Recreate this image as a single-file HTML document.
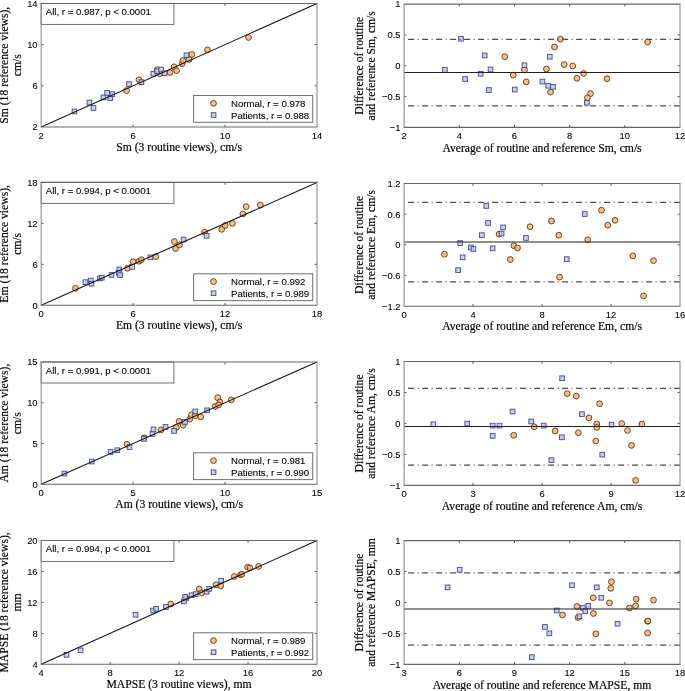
<!DOCTYPE html>
<html><head><meta charset="utf-8"><title>chart</title>
<style>html,body{margin:0;padding:0;background:#fff;width:685px;height:691px;overflow:hidden}svg{display:block;will-change:transform;-webkit-font-smoothing:antialiased}</style>
</head><body>
<svg width="685" height="691" viewBox="0 0 685 691">
<style>
.ax{stroke:#555;stroke-width:1;fill:none}
.axh{stroke:#666;stroke-width:1.1;fill:none}
.axv{stroke:#8c8c8c;stroke-width:1.1;fill:none}
.lg{stroke:#707070;stroke-width:1;fill:#fff}
.tk{font-family:"Liberation Sans",sans-serif;font-size:9.4px;fill:#000;stroke:#000;stroke-width:0.1px}
.lt{font-family:"Liberation Sans",sans-serif;font-size:9.6px;fill:#000;stroke:#000;stroke-width:0.1px}
.lb{font-family:"Liberation Serif",serif;font-size:11.65px;fill:#000;stroke:#000;stroke-width:0.18px}
.oc{fill:#F7B46C;fill-opacity:0.85;stroke:#5a3a1c;stroke-width:0.9}
.bs{fill:#BCC6F2;fill-opacity:0.85;stroke:#474c7c;stroke-width:0.9}
.diag{stroke:#151515;stroke-width:1.05}
.mean{stroke:#202020;stroke-width:1.05}
.dd{stroke:#4a4a4a;stroke-width:1.3;stroke-dasharray:6 3.5 1 3.5;stroke-dashoffset:10}
</style>
<rect width="685" height="691" fill="#fff"/>
<text x="41.20" y="138.90" class="tk" text-anchor="middle">2</text>
<line x1="133.13" y1="127.00" x2="133.13" y2="124.60" class="ax"/>
<line x1="133.13" y1="3.45" x2="133.13" y2="5.85" class="ax"/>
<text x="133.13" y="138.90" class="tk" text-anchor="middle">6</text>
<line x1="225.07" y1="127.00" x2="225.07" y2="124.60" class="ax"/>
<line x1="225.07" y1="3.45" x2="225.07" y2="5.85" class="ax"/>
<text x="225.07" y="138.90" class="tk" text-anchor="middle">10</text>
<text x="317.00" y="138.90" class="tk" text-anchor="middle">14</text>
<text x="37.60" y="130.35" class="tk" text-anchor="end">2</text>
<line x1="41.20" y1="85.82" x2="43.60" y2="85.82" class="ax"/>
<line x1="317.00" y1="85.82" x2="314.60" y2="85.82" class="ax"/>
<text x="37.60" y="89.17" class="tk" text-anchor="end">6</text>
<line x1="41.20" y1="44.63" x2="43.60" y2="44.63" class="ax"/>
<line x1="317.00" y1="44.63" x2="314.60" y2="44.63" class="ax"/>
<text x="37.60" y="47.98" class="tk" text-anchor="end">10</text>
<text x="37.60" y="6.80" class="tk" text-anchor="end">14</text>
<text x="179.10" y="151.10" class="lb" text-anchor="middle">Sm (3 routine views), cm/s</text>
<text transform="translate(8.00,65.22) rotate(-90)" class="lb" text-anchor="middle">Sm (18 reference views),</text>
<text transform="translate(20.90,65.22) rotate(-90)" class="lb" text-anchor="middle">cm/s</text>
<circle cx="126.6" cy="90.6" r="2.9" class="oc"/>
<circle cx="157.3" cy="69.6" r="2.9" class="oc"/>
<circle cx="139.0" cy="79.8" r="2.9" class="oc"/>
<circle cx="159.6" cy="73.7" r="2.9" class="oc"/>
<circle cx="170.0" cy="72.5" r="2.9" class="oc"/>
<circle cx="174.1" cy="66.8" r="2.9" class="oc"/>
<circle cx="176.5" cy="70.6" r="2.9" class="oc"/>
<circle cx="182.1" cy="63.7" r="2.9" class="oc"/>
<circle cx="182.9" cy="60.6" r="2.9" class="oc"/>
<circle cx="189.2" cy="59.4" r="2.9" class="oc"/>
<circle cx="191.8" cy="54.5" r="2.9" class="oc"/>
<circle cx="207.5" cy="49.9" r="2.9" class="oc"/>
<circle cx="248.5" cy="37.5" r="2.9" class="oc"/>
<rect x="72.1" y="109.1" width="4.7" height="4.7" class="bs"/>
<rect x="87.1" y="100.2" width="4.7" height="4.7" class="bs"/>
<rect x="91.1" y="105.6" width="4.7" height="4.7" class="bs"/>
<rect x="101.1" y="95.1" width="4.7" height="4.7" class="bs"/>
<rect x="104.8" y="90.6" width="4.7" height="4.7" class="bs"/>
<rect x="107.9" y="95.7" width="4.7" height="4.7" class="bs"/>
<rect x="110.0" y="91.8" width="4.7" height="4.7" class="bs"/>
<rect x="126.6" y="81.7" width="4.7" height="4.7" class="bs"/>
<rect x="139.1" y="79.8" width="4.7" height="4.7" class="bs"/>
<rect x="151.0" y="71.4" width="4.7" height="4.7" class="bs"/>
<rect x="154.8" y="68.9" width="4.7" height="4.7" class="bs"/>
<rect x="158.8" y="67.2" width="4.7" height="4.7" class="bs"/>
<rect x="162.3" y="70.9" width="4.7" height="4.7" class="bs"/>
<rect x="184.1" y="52.9" width="4.7" height="4.7" class="bs"/>
<line x1="41.20" y1="127.00" x2="317.00" y2="3.45" class="diag"/>
<rect x="41.20" y="3.45" width="132.70" height="21.00" class="lg"/>
<text x="45.80" y="15.15" class="lt">All, r = 0.987, p &lt; 0.0001</text>
<rect x="193.60" y="95.50" width="119.10" height="26.80" class="lg"/>
<circle cx="213.5" cy="103.3" r="2.9" class="oc"/>
<rect x="211.2" y="112.7" width="4.7" height="4.7" class="bs"/>
<text x="231.0" y="106.80" class="lt">Normal, r = 0.978</text>
<text x="231.0" y="118.50" class="lt">Patients, r = 0.988</text>
<path d="M40.70 3.45H317.50M40.70 127.00H317.50" class="axh"/>
<path d="M41.20 3.45V127.00M317.00 3.45V127.00" class="axv"/>
<text x="404.10" y="139.30" class="tk" text-anchor="middle">2</text>
<line x1="459.28" y1="127.40" x2="459.28" y2="125.00" class="ax"/>
<line x1="459.28" y1="4.10" x2="459.28" y2="6.50" class="ax"/>
<text x="459.28" y="139.30" class="tk" text-anchor="middle">4</text>
<line x1="514.46" y1="127.40" x2="514.46" y2="125.00" class="ax"/>
<line x1="514.46" y1="4.10" x2="514.46" y2="6.50" class="ax"/>
<text x="514.46" y="139.30" class="tk" text-anchor="middle">6</text>
<line x1="569.64" y1="127.40" x2="569.64" y2="125.00" class="ax"/>
<line x1="569.64" y1="4.10" x2="569.64" y2="6.50" class="ax"/>
<text x="569.64" y="139.30" class="tk" text-anchor="middle">8</text>
<line x1="624.82" y1="127.40" x2="624.82" y2="125.00" class="ax"/>
<line x1="624.82" y1="4.10" x2="624.82" y2="6.50" class="ax"/>
<text x="624.82" y="139.30" class="tk" text-anchor="middle">10</text>
<text x="680.00" y="139.30" class="tk" text-anchor="middle">12</text>
<text x="400.50" y="130.75" class="tk" text-anchor="end">−1</text>
<line x1="404.10" y1="96.58" x2="406.50" y2="96.58" class="ax"/>
<line x1="680.00" y1="96.58" x2="677.60" y2="96.58" class="ax"/>
<text x="400.50" y="99.92" class="tk" text-anchor="end">−0.5</text>
<line x1="404.10" y1="65.75" x2="406.50" y2="65.75" class="ax"/>
<line x1="680.00" y1="65.75" x2="677.60" y2="65.75" class="ax"/>
<text x="400.50" y="69.10" class="tk" text-anchor="end">0</text>
<line x1="404.10" y1="34.92" x2="406.50" y2="34.92" class="ax"/>
<line x1="680.00" y1="34.92" x2="677.60" y2="34.92" class="ax"/>
<text x="400.50" y="38.27" class="tk" text-anchor="end">0.5</text>
<text x="400.50" y="7.45" class="tk" text-anchor="end">1</text>
<text x="542.05" y="151.50" class="lb" text-anchor="middle">Average of routine and reference Sm, cm/s</text>
<text transform="translate(362.50,65.75) rotate(-90)" class="lb" text-anchor="middle">Difference of routine</text>
<text transform="translate(375.40,65.75) rotate(-90)" class="lb" text-anchor="middle">and reference Sm, cm/s</text>
<circle cx="504.8" cy="56.7" r="2.9" class="oc"/>
<circle cx="513.3" cy="75.1" r="2.9" class="oc"/>
<circle cx="524.5" cy="69.9" r="2.9" class="oc"/>
<circle cx="526.2" cy="81.9" r="2.9" class="oc"/>
<circle cx="546.4" cy="69.0" r="2.9" class="oc"/>
<circle cx="550.5" cy="92.1" r="2.9" class="oc"/>
<circle cx="554.5" cy="47.0" r="2.9" class="oc"/>
<circle cx="560.4" cy="39.2" r="2.9" class="oc"/>
<circle cx="564.2" cy="64.6" r="2.9" class="oc"/>
<circle cx="572.7" cy="66.0" r="2.9" class="oc"/>
<circle cx="576.9" cy="78.3" r="2.9" class="oc"/>
<circle cx="583.7" cy="73.5" r="2.9" class="oc"/>
<circle cx="590.5" cy="93.6" r="2.9" class="oc"/>
<circle cx="587.5" cy="97.8" r="2.9" class="oc"/>
<circle cx="607.0" cy="78.7" r="2.9" class="oc"/>
<circle cx="647.6" cy="42.1" r="2.9" class="oc"/>
<rect x="442.5" y="67.6" width="4.7" height="4.7" class="bs"/>
<rect x="458.6" y="36.4" width="4.7" height="4.7" class="bs"/>
<rect x="462.8" y="76.7" width="4.7" height="4.7" class="bs"/>
<rect x="482.3" y="53.1" width="4.7" height="4.7" class="bs"/>
<rect x="478.3" y="71.4" width="4.7" height="4.7" class="bs"/>
<rect x="488.2" y="67.1" width="4.7" height="4.7" class="bs"/>
<rect x="486.5" y="87.7" width="4.7" height="4.7" class="bs"/>
<rect x="512.4" y="87.2" width="4.7" height="4.7" class="bs"/>
<rect x="522.1" y="62.9" width="4.7" height="4.7" class="bs"/>
<rect x="540.1" y="79.2" width="4.7" height="4.7" class="bs"/>
<rect x="545.8" y="83.4" width="4.7" height="4.7" class="bs"/>
<rect x="550.6" y="84.5" width="4.7" height="4.7" class="bs"/>
<rect x="547.4" y="54.4" width="4.7" height="4.7" class="bs"/>
<rect x="584.5" y="100.4" width="4.7" height="4.7" class="bs"/>
<line x1="404.10" y1="72.40" x2="680.00" y2="72.40" class="mean"/>
<line x1="404.10" y1="39.35" x2="680.00" y2="39.35" class="dd"/>
<line x1="404.10" y1="105.95" x2="680.00" y2="105.95" class="dd"/>
<path d="M403.60 4.10H680.50M403.60 127.40H680.50" class="axh"/>
<path d="M404.10 4.10V127.40M680.00 4.10V127.40" class="axv"/>
<text x="41.20" y="317.20" class="tk" text-anchor="middle">0</text>
<line x1="133.13" y1="305.30" x2="133.13" y2="302.90" class="ax"/>
<line x1="133.13" y1="182.40" x2="133.13" y2="184.80" class="ax"/>
<text x="133.13" y="317.20" class="tk" text-anchor="middle">6</text>
<line x1="225.07" y1="305.30" x2="225.07" y2="302.90" class="ax"/>
<line x1="225.07" y1="182.40" x2="225.07" y2="184.80" class="ax"/>
<text x="225.07" y="317.20" class="tk" text-anchor="middle">12</text>
<text x="317.00" y="317.20" class="tk" text-anchor="middle">18</text>
<text x="37.60" y="308.65" class="tk" text-anchor="end">0</text>
<line x1="41.20" y1="264.33" x2="43.60" y2="264.33" class="ax"/>
<line x1="317.00" y1="264.33" x2="314.60" y2="264.33" class="ax"/>
<text x="37.60" y="267.68" class="tk" text-anchor="end">6</text>
<line x1="41.20" y1="223.37" x2="43.60" y2="223.37" class="ax"/>
<line x1="317.00" y1="223.37" x2="314.60" y2="223.37" class="ax"/>
<text x="37.60" y="226.72" class="tk" text-anchor="end">12</text>
<text x="37.60" y="185.75" class="tk" text-anchor="end">18</text>
<text x="179.10" y="329.40" class="lb" text-anchor="middle">Em (3 routine views), cm/s</text>
<text transform="translate(8.00,243.85) rotate(-90)" class="lb" text-anchor="middle">Em (18 reference views),</text>
<text transform="translate(20.90,243.85) rotate(-90)" class="lb" text-anchor="middle">cm/s</text>
<circle cx="75.4" cy="288.3" r="2.9" class="oc"/>
<circle cx="127.5" cy="268.3" r="2.9" class="oc"/>
<circle cx="133.2" cy="261.7" r="2.9" class="oc"/>
<circle cx="138.9" cy="261.3" r="2.9" class="oc"/>
<circle cx="141.4" cy="259.7" r="2.9" class="oc"/>
<circle cx="155.7" cy="256.6" r="2.9" class="oc"/>
<circle cx="174.4" cy="241.5" r="2.9" class="oc"/>
<circle cx="175.6" cy="248.5" r="2.9" class="oc"/>
<circle cx="179.5" cy="244.8" r="2.9" class="oc"/>
<circle cx="204.6" cy="232.1" r="2.9" class="oc"/>
<circle cx="221.7" cy="229.3" r="2.9" class="oc"/>
<circle cx="225.2" cy="225.5" r="2.9" class="oc"/>
<circle cx="232.4" cy="223.4" r="2.9" class="oc"/>
<circle cx="242.9" cy="213.9" r="2.9" class="oc"/>
<circle cx="246.2" cy="206.7" r="2.9" class="oc"/>
<circle cx="260.4" cy="205.2" r="2.9" class="oc"/>
<rect x="83.1" y="279.8" width="4.7" height="4.7" class="bs"/>
<rect x="88.4" y="278.2" width="4.7" height="4.7" class="bs"/>
<rect x="89.2" y="281.4" width="4.7" height="4.7" class="bs"/>
<rect x="97.4" y="276.1" width="4.7" height="4.7" class="bs"/>
<rect x="99.4" y="275.3" width="4.7" height="4.7" class="bs"/>
<rect x="109.2" y="272.6" width="4.7" height="4.7" class="bs"/>
<rect x="117.0" y="267.1" width="4.7" height="4.7" class="bs"/>
<rect x="116.4" y="270.6" width="4.7" height="4.7" class="bs"/>
<rect x="117.8" y="272.8" width="4.7" height="4.7" class="bs"/>
<rect x="129.7" y="264.5" width="4.7" height="4.7" class="bs"/>
<rect x="148.1" y="255.0" width="4.7" height="4.7" class="bs"/>
<rect x="181.2" y="237.2" width="4.7" height="4.7" class="bs"/>
<rect x="204.2" y="233.5" width="4.7" height="4.7" class="bs"/>
<line x1="41.20" y1="305.30" x2="317.00" y2="182.40" class="diag"/>
<rect x="41.20" y="182.40" width="132.70" height="21.00" class="lg"/>
<text x="45.80" y="194.10" class="lt">All, r = 0.994, p &lt; 0.0001</text>
<rect x="193.60" y="273.80" width="119.10" height="26.80" class="lg"/>
<circle cx="213.5" cy="281.6" r="2.9" class="oc"/>
<rect x="211.2" y="290.9" width="4.7" height="4.7" class="bs"/>
<text x="231.0" y="285.10" class="lt">Normal, r = 0.992</text>
<text x="231.0" y="296.80" class="lt">Patients, r = 0.989</text>
<path d="M40.70 182.40H317.50M40.70 305.30H317.50" class="axh"/>
<path d="M41.20 182.40V305.30M317.00 182.40V305.30" class="axv"/>
<text x="404.10" y="318.20" class="tk" text-anchor="middle">0</text>
<line x1="473.08" y1="306.30" x2="473.08" y2="303.90" class="ax"/>
<line x1="473.08" y1="183.50" x2="473.08" y2="185.90" class="ax"/>
<text x="473.08" y="318.20" class="tk" text-anchor="middle">4</text>
<line x1="542.05" y1="306.30" x2="542.05" y2="303.90" class="ax"/>
<line x1="542.05" y1="183.50" x2="542.05" y2="185.90" class="ax"/>
<text x="542.05" y="318.20" class="tk" text-anchor="middle">8</text>
<line x1="611.02" y1="306.30" x2="611.02" y2="303.90" class="ax"/>
<line x1="611.02" y1="183.50" x2="611.02" y2="185.90" class="ax"/>
<text x="611.02" y="318.20" class="tk" text-anchor="middle">12</text>
<text x="680.00" y="318.20" class="tk" text-anchor="middle">16</text>
<text x="400.50" y="309.65" class="tk" text-anchor="end">−1.2</text>
<line x1="404.10" y1="275.60" x2="406.50" y2="275.60" class="ax"/>
<line x1="680.00" y1="275.60" x2="677.60" y2="275.60" class="ax"/>
<text x="400.50" y="278.95" class="tk" text-anchor="end">−0.6</text>
<line x1="404.10" y1="244.90" x2="406.50" y2="244.90" class="ax"/>
<line x1="680.00" y1="244.90" x2="677.60" y2="244.90" class="ax"/>
<text x="400.50" y="248.25" class="tk" text-anchor="end">0</text>
<line x1="404.10" y1="214.20" x2="406.50" y2="214.20" class="ax"/>
<line x1="680.00" y1="214.20" x2="677.60" y2="214.20" class="ax"/>
<text x="400.50" y="217.55" class="tk" text-anchor="end">0.6</text>
<text x="400.50" y="186.85" class="tk" text-anchor="end">1.2</text>
<text x="542.05" y="330.40" class="lb" text-anchor="middle">Average of routine and reference Em, cm/s</text>
<text transform="translate(362.50,244.90) rotate(-90)" class="lb" text-anchor="middle">Difference of routine</text>
<text transform="translate(375.40,244.90) rotate(-90)" class="lb" text-anchor="middle">and reference Em, cm/s</text>
<circle cx="444.5" cy="254.2" r="2.9" class="oc"/>
<circle cx="499.1" cy="234.1" r="2.9" class="oc"/>
<circle cx="510.3" cy="259.5" r="2.9" class="oc"/>
<circle cx="513.9" cy="245.7" r="2.9" class="oc"/>
<circle cx="517.5" cy="247.9" r="2.9" class="oc"/>
<circle cx="530.0" cy="226.7" r="2.9" class="oc"/>
<circle cx="551.5" cy="221.0" r="2.9" class="oc"/>
<circle cx="558.9" cy="235.2" r="2.9" class="oc"/>
<circle cx="559.6" cy="277.1" r="2.9" class="oc"/>
<circle cx="587.7" cy="239.8" r="2.9" class="oc"/>
<circle cx="601.5" cy="210.2" r="2.9" class="oc"/>
<circle cx="607.8" cy="225.2" r="2.9" class="oc"/>
<circle cx="615.0" cy="220.3" r="2.9" class="oc"/>
<circle cx="632.8" cy="255.9" r="2.9" class="oc"/>
<circle cx="643.6" cy="295.9" r="2.9" class="oc"/>
<circle cx="653.5" cy="260.6" r="2.9" class="oc"/>
<rect x="455.8" y="267.8" width="4.7" height="4.7" class="bs"/>
<rect x="457.8" y="240.7" width="4.7" height="4.7" class="bs"/>
<rect x="460.3" y="255.0" width="4.7" height="4.7" class="bs"/>
<rect x="468.5" y="245.1" width="4.7" height="4.7" class="bs"/>
<rect x="471.1" y="246.6" width="4.7" height="4.7" class="bs"/>
<rect x="479.5" y="232.8" width="4.7" height="4.7" class="bs"/>
<rect x="484.0" y="203.6" width="4.7" height="4.7" class="bs"/>
<rect x="485.8" y="220.6" width="4.7" height="4.7" class="bs"/>
<rect x="490.3" y="246.0" width="4.7" height="4.7" class="bs"/>
<rect x="499.2" y="231.2" width="4.7" height="4.7" class="bs"/>
<rect x="500.8" y="225.0" width="4.7" height="4.7" class="bs"/>
<rect x="523.6" y="235.6" width="4.7" height="4.7" class="bs"/>
<rect x="564.4" y="256.8" width="4.7" height="4.7" class="bs"/>
<rect x="582.4" y="211.7" width="4.7" height="4.7" class="bs"/>
<line x1="404.10" y1="241.90" x2="680.00" y2="241.90" class="mean"/>
<line x1="404.10" y1="202.45" x2="680.00" y2="202.45" class="dd"/>
<line x1="404.10" y1="281.90" x2="680.00" y2="281.90" class="dd"/>
<path d="M403.60 183.50H680.50M403.60 306.30H680.50" class="axh"/>
<path d="M404.10 183.50V306.30M680.00 183.50V306.30" class="axv"/>
<text x="41.20" y="496.20" class="tk" text-anchor="middle">0</text>
<line x1="133.13" y1="484.30" x2="133.13" y2="481.90" class="ax"/>
<line x1="133.13" y1="362.00" x2="133.13" y2="364.40" class="ax"/>
<text x="133.13" y="496.20" class="tk" text-anchor="middle">5</text>
<line x1="225.07" y1="484.30" x2="225.07" y2="481.90" class="ax"/>
<line x1="225.07" y1="362.00" x2="225.07" y2="364.40" class="ax"/>
<text x="225.07" y="496.20" class="tk" text-anchor="middle">10</text>
<text x="317.00" y="496.20" class="tk" text-anchor="middle">15</text>
<text x="37.60" y="487.65" class="tk" text-anchor="end">0</text>
<line x1="41.20" y1="443.53" x2="43.60" y2="443.53" class="ax"/>
<line x1="317.00" y1="443.53" x2="314.60" y2="443.53" class="ax"/>
<text x="37.60" y="446.88" class="tk" text-anchor="end">5</text>
<line x1="41.20" y1="402.77" x2="43.60" y2="402.77" class="ax"/>
<line x1="317.00" y1="402.77" x2="314.60" y2="402.77" class="ax"/>
<text x="37.60" y="406.12" class="tk" text-anchor="end">10</text>
<text x="37.60" y="365.35" class="tk" text-anchor="end">15</text>
<text x="179.10" y="508.40" class="lb" text-anchor="middle">Am (3 routine views), cm/s</text>
<text transform="translate(8.00,423.15) rotate(-90)" class="lb" text-anchor="middle">Am (18 reference views),</text>
<text transform="translate(20.90,423.15) rotate(-90)" class="lb" text-anchor="middle">cm/s</text>
<circle cx="126.9" cy="444.2" r="2.9" class="oc"/>
<circle cx="144.2" cy="437.7" r="2.9" class="oc"/>
<circle cx="161.0" cy="429.9" r="2.9" class="oc"/>
<circle cx="176.3" cy="427.4" r="2.9" class="oc"/>
<circle cx="179.1" cy="421.3" r="2.9" class="oc"/>
<circle cx="183.1" cy="425.3" r="2.9" class="oc"/>
<circle cx="189.7" cy="419.1" r="2.9" class="oc"/>
<circle cx="191.5" cy="414.7" r="2.9" class="oc"/>
<circle cx="195.2" cy="415.8" r="2.9" class="oc"/>
<circle cx="200.7" cy="416.9" r="2.9" class="oc"/>
<circle cx="215.3" cy="406.4" r="2.9" class="oc"/>
<circle cx="217.7" cy="397.7" r="2.9" class="oc"/>
<circle cx="219.9" cy="402.0" r="2.9" class="oc"/>
<circle cx="218.6" cy="404.9" r="2.9" class="oc"/>
<circle cx="231.3" cy="399.9" r="2.9" class="oc"/>
<rect x="62.1" y="471.2" width="4.7" height="4.7" class="bs"/>
<rect x="89.4" y="459.2" width="4.7" height="4.7" class="bs"/>
<rect x="108.2" y="449.6" width="4.7" height="4.7" class="bs"/>
<rect x="115.0" y="447.9" width="4.7" height="4.7" class="bs"/>
<rect x="127.2" y="444.8" width="4.7" height="4.7" class="bs"/>
<rect x="141.5" y="436.5" width="4.7" height="4.7" class="bs"/>
<rect x="150.1" y="431.6" width="4.7" height="4.7" class="bs"/>
<rect x="151.2" y="427.1" width="4.7" height="4.7" class="bs"/>
<rect x="163.2" y="424.6" width="4.7" height="4.7" class="bs"/>
<rect x="171.7" y="428.6" width="4.7" height="4.7" class="bs"/>
<rect x="182.6" y="419.6" width="4.7" height="4.7" class="bs"/>
<rect x="192.8" y="409.1" width="4.7" height="4.7" class="bs"/>
<rect x="204.8" y="408.0" width="4.7" height="4.7" class="bs"/>
<line x1="41.20" y1="484.30" x2="317.00" y2="362.00" class="diag"/>
<rect x="41.20" y="362.00" width="132.70" height="21.00" class="lg"/>
<text x="45.80" y="373.70" class="lt">All, r = 0.991, p &lt; 0.0001</text>
<rect x="193.60" y="452.80" width="119.10" height="26.80" class="lg"/>
<circle cx="213.5" cy="460.6" r="2.9" class="oc"/>
<rect x="211.2" y="469.9" width="4.7" height="4.7" class="bs"/>
<text x="231.0" y="464.10" class="lt">Normal, r = 0.981</text>
<text x="231.0" y="475.80" class="lt">Patients, r = 0.990</text>
<path d="M40.70 362.00H317.50M40.70 484.30H317.50" class="axh"/>
<path d="M41.20 362.00V484.30M317.00 362.00V484.30" class="axv"/>
<text x="404.10" y="497.30" class="tk" text-anchor="middle">0</text>
<line x1="473.08" y1="485.40" x2="473.08" y2="483.00" class="ax"/>
<line x1="473.08" y1="361.50" x2="473.08" y2="363.90" class="ax"/>
<text x="473.08" y="497.30" class="tk" text-anchor="middle">3</text>
<line x1="542.05" y1="485.40" x2="542.05" y2="483.00" class="ax"/>
<line x1="542.05" y1="361.50" x2="542.05" y2="363.90" class="ax"/>
<text x="542.05" y="497.30" class="tk" text-anchor="middle">6</text>
<line x1="611.02" y1="485.40" x2="611.02" y2="483.00" class="ax"/>
<line x1="611.02" y1="361.50" x2="611.02" y2="363.90" class="ax"/>
<text x="611.02" y="497.30" class="tk" text-anchor="middle">9</text>
<text x="680.00" y="497.30" class="tk" text-anchor="middle">12</text>
<text x="400.50" y="488.75" class="tk" text-anchor="end">−1</text>
<line x1="404.10" y1="454.42" x2="406.50" y2="454.42" class="ax"/>
<line x1="680.00" y1="454.42" x2="677.60" y2="454.42" class="ax"/>
<text x="400.50" y="457.77" class="tk" text-anchor="end">−0.5</text>
<line x1="404.10" y1="423.45" x2="406.50" y2="423.45" class="ax"/>
<line x1="680.00" y1="423.45" x2="677.60" y2="423.45" class="ax"/>
<text x="400.50" y="426.80" class="tk" text-anchor="end">0</text>
<line x1="404.10" y1="392.48" x2="406.50" y2="392.48" class="ax"/>
<line x1="680.00" y1="392.48" x2="677.60" y2="392.48" class="ax"/>
<text x="400.50" y="395.83" class="tk" text-anchor="end">0.5</text>
<text x="400.50" y="364.85" class="tk" text-anchor="end">1</text>
<text x="542.05" y="509.50" class="lb" text-anchor="middle">Average of routine and reference Am, cm/s</text>
<text transform="translate(362.50,423.45) rotate(-90)" class="lb" text-anchor="middle">Difference of routine</text>
<text transform="translate(375.40,423.45) rotate(-90)" class="lb" text-anchor="middle">and reference Am, cm/s</text>
<circle cx="513.7" cy="435.3" r="2.9" class="oc"/>
<circle cx="534.2" cy="426.8" r="2.9" class="oc"/>
<circle cx="555.1" cy="431.0" r="2.9" class="oc"/>
<circle cx="567.2" cy="393.6" r="2.9" class="oc"/>
<circle cx="576.3" cy="396.1" r="2.9" class="oc"/>
<circle cx="578.4" cy="432.7" r="2.9" class="oc"/>
<circle cx="589.0" cy="417.9" r="2.9" class="oc"/>
<circle cx="595.8" cy="441.0" r="2.9" class="oc"/>
<circle cx="596.8" cy="424.0" r="2.9" class="oc"/>
<circle cx="596.8" cy="427.4" r="2.9" class="oc"/>
<circle cx="599.6" cy="403.7" r="2.9" class="oc"/>
<circle cx="621.8" cy="423.6" r="2.9" class="oc"/>
<circle cx="627.5" cy="430.4" r="2.9" class="oc"/>
<circle cx="631.5" cy="445.4" r="2.9" class="oc"/>
<circle cx="635.6" cy="480.4" r="2.9" class="oc"/>
<circle cx="641.9" cy="424.0" r="2.9" class="oc"/>
<rect x="431.0" y="421.9" width="4.7" height="4.7" class="bs"/>
<rect x="464.9" y="421.2" width="4.7" height="4.7" class="bs"/>
<rect x="490.3" y="423.3" width="4.7" height="4.7" class="bs"/>
<rect x="497.1" y="423.3" width="4.7" height="4.7" class="bs"/>
<rect x="490.3" y="433.5" width="4.7" height="4.7" class="bs"/>
<rect x="510.2" y="409.2" width="4.7" height="4.7" class="bs"/>
<rect x="528.9" y="419.1" width="4.7" height="4.7" class="bs"/>
<rect x="541.4" y="423.3" width="4.7" height="4.7" class="bs"/>
<rect x="559.5" y="435.0" width="4.7" height="4.7" class="bs"/>
<rect x="559.8" y="375.9" width="4.7" height="4.7" class="bs"/>
<rect x="549.1" y="457.8" width="4.7" height="4.7" class="bs"/>
<rect x="579.6" y="411.8" width="4.7" height="4.7" class="bs"/>
<rect x="599.9" y="452.3" width="4.7" height="4.7" class="bs"/>
<rect x="609.2" y="422.3" width="4.7" height="4.7" class="bs"/>
<line x1="404.10" y1="426.50" x2="680.00" y2="426.50" class="mean"/>
<line x1="404.10" y1="388.40" x2="680.00" y2="388.40" class="dd"/>
<line x1="404.10" y1="465.10" x2="680.00" y2="465.10" class="dd"/>
<path d="M403.60 361.50H680.50M403.60 485.40H680.50" class="axh"/>
<path d="M404.10 361.50V485.40M680.00 361.50V485.40" class="axv"/>
<text x="41.20" y="676.20" class="tk" text-anchor="middle">4</text>
<line x1="110.15" y1="664.30" x2="110.15" y2="661.90" class="ax"/>
<line x1="110.15" y1="540.50" x2="110.15" y2="542.90" class="ax"/>
<text x="110.15" y="676.20" class="tk" text-anchor="middle">8</text>
<line x1="179.10" y1="664.30" x2="179.10" y2="661.90" class="ax"/>
<line x1="179.10" y1="540.50" x2="179.10" y2="542.90" class="ax"/>
<text x="179.10" y="676.20" class="tk" text-anchor="middle">12</text>
<line x1="248.05" y1="664.30" x2="248.05" y2="661.90" class="ax"/>
<line x1="248.05" y1="540.50" x2="248.05" y2="542.90" class="ax"/>
<text x="248.05" y="676.20" class="tk" text-anchor="middle">16</text>
<text x="317.00" y="676.20" class="tk" text-anchor="middle">20</text>
<text x="37.60" y="667.65" class="tk" text-anchor="end">4</text>
<line x1="41.20" y1="633.35" x2="43.60" y2="633.35" class="ax"/>
<line x1="317.00" y1="633.35" x2="314.60" y2="633.35" class="ax"/>
<text x="37.60" y="636.70" class="tk" text-anchor="end">8</text>
<line x1="41.20" y1="602.40" x2="43.60" y2="602.40" class="ax"/>
<line x1="317.00" y1="602.40" x2="314.60" y2="602.40" class="ax"/>
<text x="37.60" y="605.75" class="tk" text-anchor="end">12</text>
<line x1="41.20" y1="571.45" x2="43.60" y2="571.45" class="ax"/>
<line x1="317.00" y1="571.45" x2="314.60" y2="571.45" class="ax"/>
<text x="37.60" y="574.80" class="tk" text-anchor="end">16</text>
<text x="37.60" y="543.85" class="tk" text-anchor="end">20</text>
<text x="179.10" y="688.40" class="lb" text-anchor="middle">MAPSE (3 routine views), mm</text>
<text transform="translate(8.00,602.40) rotate(-90)" class="lb" text-anchor="middle">MAPSE (18 reference views),</text>
<text transform="translate(20.90,602.40) rotate(-90)" class="lb" text-anchor="middle">mm</text>
<circle cx="170.7" cy="604.0" r="2.9" class="oc"/>
<circle cx="186.2" cy="598.3" r="2.9" class="oc"/>
<circle cx="199.2" cy="588.9" r="2.9" class="oc"/>
<circle cx="201.6" cy="592.9" r="2.9" class="oc"/>
<circle cx="216.1" cy="584.7" r="2.9" class="oc"/>
<circle cx="220.7" cy="585.9" r="2.9" class="oc"/>
<circle cx="234.3" cy="576.5" r="2.9" class="oc"/>
<circle cx="240.6" cy="574.9" r="2.9" class="oc"/>
<circle cx="241.8" cy="574.2" r="2.9" class="oc"/>
<circle cx="247.6" cy="567.2" r="2.9" class="oc"/>
<circle cx="249.9" cy="567.9" r="2.9" class="oc"/>
<circle cx="258.6" cy="566.5" r="2.9" class="oc"/>
<rect x="64.2" y="652.5" width="4.7" height="4.7" class="bs"/>
<rect x="78.2" y="648.0" width="4.7" height="4.7" class="bs"/>
<rect x="133.2" y="612.4" width="4.7" height="4.7" class="bs"/>
<rect x="150.7" y="608.2" width="4.7" height="4.7" class="bs"/>
<rect x="153.8" y="606.5" width="4.7" height="4.7" class="bs"/>
<rect x="163.6" y="604.6" width="4.7" height="4.7" class="bs"/>
<rect x="181.5" y="599.1" width="4.7" height="4.7" class="bs"/>
<rect x="182.8" y="594.5" width="4.7" height="4.7" class="bs"/>
<rect x="189.2" y="592.9" width="4.7" height="4.7" class="bs"/>
<rect x="193.3" y="591.8" width="4.7" height="4.7" class="bs"/>
<rect x="204.3" y="589.4" width="4.7" height="4.7" class="bs"/>
<rect x="206.8" y="586.5" width="4.7" height="4.7" class="bs"/>
<rect x="218.8" y="578.4" width="4.7" height="4.7" class="bs"/>
<line x1="41.20" y1="664.30" x2="317.00" y2="540.50" class="diag"/>
<rect x="41.20" y="540.50" width="132.70" height="21.00" class="lg"/>
<text x="45.80" y="552.20" class="lt">All, r = 0.994, p &lt; 0.0001</text>
<rect x="193.60" y="632.80" width="119.10" height="26.80" class="lg"/>
<circle cx="213.5" cy="640.6" r="2.9" class="oc"/>
<rect x="211.2" y="649.9" width="4.7" height="4.7" class="bs"/>
<text x="231.0" y="644.10" class="lt">Normal, r = 0.989</text>
<text x="231.0" y="655.80" class="lt">Patients, r = 0.992</text>
<path d="M40.70 540.50H317.50M40.70 664.30H317.50" class="axh"/>
<path d="M41.20 540.50V664.30M317.00 540.50V664.30" class="axv"/>
<text x="404.10" y="676.30" class="tk" text-anchor="middle">3</text>
<line x1="459.28" y1="664.40" x2="459.28" y2="662.00" class="ax"/>
<line x1="459.28" y1="540.60" x2="459.28" y2="543.00" class="ax"/>
<text x="459.28" y="676.30" class="tk" text-anchor="middle">6</text>
<line x1="514.46" y1="664.40" x2="514.46" y2="662.00" class="ax"/>
<line x1="514.46" y1="540.60" x2="514.46" y2="543.00" class="ax"/>
<text x="514.46" y="676.30" class="tk" text-anchor="middle">9</text>
<line x1="569.64" y1="664.40" x2="569.64" y2="662.00" class="ax"/>
<line x1="569.64" y1="540.60" x2="569.64" y2="543.00" class="ax"/>
<text x="569.64" y="676.30" class="tk" text-anchor="middle">12</text>
<line x1="624.82" y1="664.40" x2="624.82" y2="662.00" class="ax"/>
<line x1="624.82" y1="540.60" x2="624.82" y2="543.00" class="ax"/>
<text x="624.82" y="676.30" class="tk" text-anchor="middle">15</text>
<text x="680.00" y="676.30" class="tk" text-anchor="middle">18</text>
<text x="400.50" y="667.75" class="tk" text-anchor="end">−1</text>
<line x1="404.10" y1="633.45" x2="406.50" y2="633.45" class="ax"/>
<line x1="680.00" y1="633.45" x2="677.60" y2="633.45" class="ax"/>
<text x="400.50" y="636.80" class="tk" text-anchor="end">−0.5</text>
<line x1="404.10" y1="602.50" x2="406.50" y2="602.50" class="ax"/>
<line x1="680.00" y1="602.50" x2="677.60" y2="602.50" class="ax"/>
<text x="400.50" y="605.85" class="tk" text-anchor="end">0</text>
<line x1="404.10" y1="571.55" x2="406.50" y2="571.55" class="ax"/>
<line x1="680.00" y1="571.55" x2="677.60" y2="571.55" class="ax"/>
<text x="400.50" y="574.90" class="tk" text-anchor="end">0.5</text>
<text x="400.50" y="543.95" class="tk" text-anchor="end">1</text>
<text x="542.05" y="688.50" class="lb" text-anchor="middle">Average of routine and reference MAPSE, mm</text>
<text transform="translate(362.50,602.50) rotate(-90)" class="lb" text-anchor="middle">Difference of routine</text>
<text transform="translate(375.40,602.50) rotate(-90)" class="lb" text-anchor="middle">and reference MAPSE, mm</text>
<circle cx="562.5" cy="615.0" r="2.9" class="oc"/>
<circle cx="576.9" cy="606.5" r="2.9" class="oc"/>
<circle cx="578.0" cy="617.5" r="2.9" class="oc"/>
<circle cx="593.2" cy="597.8" r="2.9" class="oc"/>
<circle cx="593.4" cy="613.5" r="2.9" class="oc"/>
<circle cx="595.8" cy="633.8" r="2.9" class="oc"/>
<circle cx="609.5" cy="602.9" r="2.9" class="oc"/>
<circle cx="610.8" cy="588.3" r="2.9" class="oc"/>
<circle cx="611.4" cy="581.7" r="2.9" class="oc"/>
<circle cx="629.4" cy="608.0" r="2.9" class="oc"/>
<circle cx="635.6" cy="605.9" r="2.9" class="oc"/>
<circle cx="636.2" cy="599.1" r="2.9" class="oc"/>
<circle cx="647.6" cy="621.3" r="2.9" class="oc"/>
<circle cx="647.9" cy="621.0" r="2.9" class="oc"/>
<circle cx="647.6" cy="633.0" r="2.9" class="oc"/>
<circle cx="653.5" cy="600.1" r="2.9" class="oc"/>
<rect x="445.2" y="585.0" width="4.7" height="4.7" class="bs"/>
<rect x="457.3" y="567.5" width="4.7" height="4.7" class="bs"/>
<rect x="529.5" y="654.8" width="4.7" height="4.7" class="bs"/>
<rect x="542.6" y="624.6" width="4.7" height="4.7" class="bs"/>
<rect x="547.0" y="631.0" width="4.7" height="4.7" class="bs"/>
<rect x="554.4" y="608.1" width="4.7" height="4.7" class="bs"/>
<rect x="569.6" y="582.9" width="4.7" height="4.7" class="bs"/>
<rect x="577.1" y="614.0" width="4.7" height="4.7" class="bs"/>
<rect x="580.6" y="605.6" width="4.7" height="4.7" class="bs"/>
<rect x="582.9" y="608.8" width="4.7" height="4.7" class="bs"/>
<rect x="585.9" y="603.5" width="4.7" height="4.7" class="bs"/>
<rect x="594.4" y="585.0" width="4.7" height="4.7" class="bs"/>
<rect x="598.9" y="595.4" width="4.7" height="4.7" class="bs"/>
<rect x="615.2" y="621.4" width="4.7" height="4.7" class="bs"/>
<line x1="404.10" y1="609.05" x2="680.00" y2="609.05" class="mean"/>
<line x1="404.10" y1="572.90" x2="680.00" y2="572.90" class="dd"/>
<line x1="404.10" y1="645.10" x2="680.00" y2="645.10" class="dd"/>
<path d="M403.60 540.60H680.50M403.60 664.40H680.50" class="axh"/>
<path d="M404.10 540.60V664.40M680.00 540.60V664.40" class="axv"/>
</svg>
</body></html>
